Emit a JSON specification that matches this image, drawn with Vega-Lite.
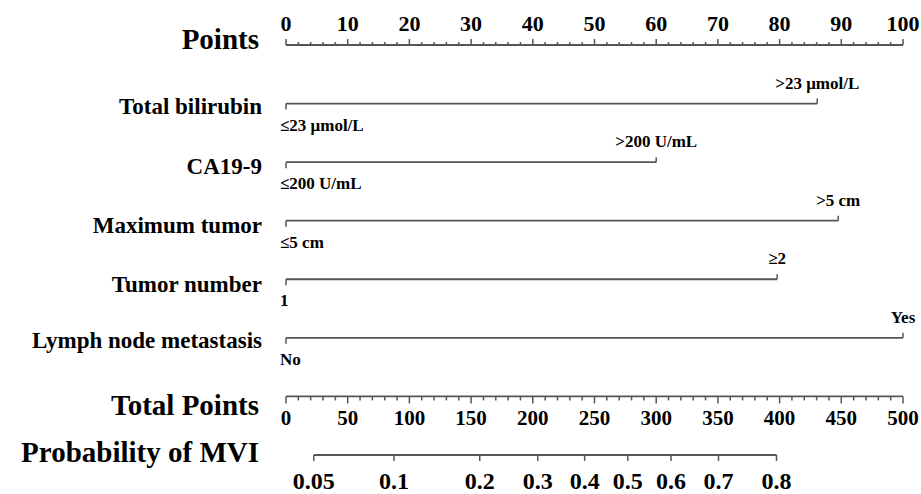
{
  "$schema": "https://vega.github.io/schema/vega-lite/v6.json",
  "width": 617,
  "height": 494,
  "autosize": {"type": "none"},
  "padding": {"left": 286, "right": 18, "top": 0, "bottom": 0},
  "background": "white",
  "config": {"view": {"stroke": null}, "text": {"font": "Liberation Serif", "fontWeight": "bold", "color": "black"}},
  "datasets": {
    "vars": [
      {"row": 1, "start": 0, "end": 86.1, "low": "≤23 μmol/L", "high": ">23 μmol/L"},
      {"row": 2, "start": 0, "end": 60, "low": "≤200 U/mL", "high": ">200 U/mL"},
      {"row": 3, "start": 0, "end": 89.5, "low": "≤5 cm", "high": ">5 cm"},
      {"row": 4, "start": 0, "end": 79.6, "low": "1", "high": "≥2"},
      {"row": 5, "start": 0, "end": 100, "low": "No", "high": "Yes"}
    ],
    "names": [
      {"name": "Points", "row": -0.085, "kind": "title"},
      {"name": "Total bilirubin", "row": 1.06, "kind": "var"},
      {"name": "CA19-9", "row": 2.08, "kind": "var"},
      {"name": "Maximum tumor", "row": 3.09, "kind": "var"},
      {"name": "Tumor number", "row": 4.1, "kind": "var"},
      {"name": "Lymph node metastasis", "row": 5.05, "kind": "var"},
      {"name": "Total Points", "row": 6.16, "kind": "title"},
      {"name": "Probability of MVI", "row": 6.97, "kind": "title"}
    ],
    "pMajor": [{"row": 0, "v": 0}, {"row": 0, "v": 10}, {"row": 0, "v": 20}, {"row": 0, "v": 30}, {"row": 0, "v": 40}, {"row": 0, "v": 50}, {"row": 0, "v": 60}, {"row": 0, "v": 70}, {"row": 0, "v": 80}, {"row": 0, "v": 90}, {"row": 0, "v": 100}],
    "pMinor": [{"row": 0, "v": 2}, {"row": 0, "v": 4}, {"row": 0, "v": 6}, {"row": 0, "v": 8}, {"row": 0, "v": 12}, {"row": 0, "v": 14}, {"row": 0, "v": 16}, {"row": 0, "v": 18}, {"row": 0, "v": 22}, {"row": 0, "v": 24}, {"row": 0, "v": 26}, {"row": 0, "v": 28}, {"row": 0, "v": 32}, {"row": 0, "v": 34}, {"row": 0, "v": 36}, {"row": 0, "v": 38}, {"row": 0, "v": 42}, {"row": 0, "v": 44}, {"row": 0, "v": 46}, {"row": 0, "v": 48}, {"row": 0, "v": 52}, {"row": 0, "v": 54}, {"row": 0, "v": 56}, {"row": 0, "v": 58}, {"row": 0, "v": 62}, {"row": 0, "v": 64}, {"row": 0, "v": 66}, {"row": 0, "v": 68}, {"row": 0, "v": 72}, {"row": 0, "v": 74}, {"row": 0, "v": 76}, {"row": 0, "v": 78}, {"row": 0, "v": 82}, {"row": 0, "v": 84}, {"row": 0, "v": 86}, {"row": 0, "v": 88}, {"row": 0, "v": 92}, {"row": 0, "v": 94}, {"row": 0, "v": 96}, {"row": 0, "v": 98}],
    "tMajor": [{"row": 6, "v": 0}, {"row": 6, "v": 50}, {"row": 6, "v": 100}, {"row": 6, "v": 150}, {"row": 6, "v": 200}, {"row": 6, "v": 250}, {"row": 6, "v": 300}, {"row": 6, "v": 350}, {"row": 6, "v": 400}, {"row": 6, "v": 450}, {"row": 6, "v": 500}],
    "tMinor": [{"row": 6, "v": 10}, {"row": 6, "v": 20}, {"row": 6, "v": 30}, {"row": 6, "v": 40}, {"row": 6, "v": 60}, {"row": 6, "v": 70}, {"row": 6, "v": 80}, {"row": 6, "v": 90}, {"row": 6, "v": 110}, {"row": 6, "v": 120}, {"row": 6, "v": 130}, {"row": 6, "v": 140}, {"row": 6, "v": 160}, {"row": 6, "v": 170}, {"row": 6, "v": 180}, {"row": 6, "v": 190}, {"row": 6, "v": 210}, {"row": 6, "v": 220}, {"row": 6, "v": 230}, {"row": 6, "v": 240}, {"row": 6, "v": 260}, {"row": 6, "v": 270}, {"row": 6, "v": 280}, {"row": 6, "v": 290}, {"row": 6, "v": 310}, {"row": 6, "v": 320}, {"row": 6, "v": 330}, {"row": 6, "v": 340}, {"row": 6, "v": 360}, {"row": 6, "v": 370}, {"row": 6, "v": 380}, {"row": 6, "v": 390}, {"row": 6, "v": 410}, {"row": 6, "v": 420}, {"row": 6, "v": 430}, {"row": 6, "v": 440}, {"row": 6, "v": 460}, {"row": 6, "v": 470}, {"row": 6, "v": 480}, {"row": 6, "v": 490}],
    "prob": [
      {"row": 7, "p": "0.05", "tp": 22.5}, {"row": 7, "p": "0.1", "tp": 87.5}, {"row": 7, "p": "0.2", "tp": 157}, {"row": 7, "p": "0.3", "tp": 204},
      {"row": 7, "p": "0.4", "tp": 242}, {"row": 7, "p": "0.5", "tp": 277}, {"row": 7, "p": "0.6", "tp": 312}, {"row": 7, "p": "0.7", "tp": 350.5}, {"row": 7, "p": "0.8", "tp": 397.5}
    ],
    "pAxis": [{"row": 0, "from": 0, "to": 100}],
    "tAxis": [{"row": 6, "from": 0, "to": 500}, {"row": 7, "from": 22.5, "to": 397.5}]
  },
  "encoding": {
    "y": {"field": "row", "type": "quantitative", "scale": {"domain": [-0.768, 7.666], "reverse": true, "nice": false, "zero": false}, "axis": null}
  },
  "layer": [
    {
      "data": {"name": "pAxis"},
      "mark": {"type": "rule", "color": "#555555", "strokeWidth": 1.8},
      "encoding": {
        "x": {"field": "from", "type": "quantitative", "scale": {"domain": [0, 100], "nice": false, "zero": false}, "axis": null},
        "x2": {"field": "to"}
      }
    },
    {
      "data": {"name": "pMajor"},
      "mark": {"type": "rule", "color": "#555555", "strokeWidth": 1.5, "y2Offset": -6},
      "encoding": {
        "x": {"field": "v", "type": "quantitative", "scale": {"domain": [0, 100], "nice": false, "zero": false}, "axis": null},
        "y2": {"field": "row"}
      }
    },
    {
      "data": {"name": "pMinor"},
      "mark": {"type": "rule", "color": "#555555", "strokeWidth": 1.5, "y2Offset": -3},
      "encoding": {
        "x": {"field": "v", "type": "quantitative", "scale": {"domain": [0, 100], "nice": false, "zero": false}, "axis": null},
        "y2": {"field": "row"}
      }
    },
    {
      "data": {"name": "pMajor"},
      "mark": {"type": "text", "fontSize": 22, "baseline": "middle", "align": "center", "dy": -21},
      "encoding": {
        "x": {"field": "v", "type": "quantitative", "scale": {"domain": [0, 100], "nice": false, "zero": false}, "axis": null},
        "text": {"field": "v", "type": "quantitative", "format": "d"}
      }
    },
    {
      "data": {"name": "vars"},
      "mark": {"type": "rule", "color": "#555555", "strokeWidth": 1.8},
      "encoding": {
        "x": {"field": "start", "type": "quantitative", "scale": {"domain": [0, 100], "nice": false, "zero": false}, "axis": null},
        "x2": {"field": "end"}
      }
    },
    {
      "data": {"name": "vars"},
      "mark": {"type": "rule", "color": "#555555", "strokeWidth": 1.5, "y2Offset": 6},
      "encoding": {
        "x": {"field": "start", "type": "quantitative", "scale": {"domain": [0, 100], "nice": false, "zero": false}, "axis": null},
        "y2": {"field": "row"}
      }
    },
    {
      "data": {"name": "vars"},
      "mark": {"type": "rule", "color": "#555555", "strokeWidth": 1.5, "y2Offset": -5},
      "encoding": {
        "x": {"field": "end", "type": "quantitative", "scale": {"domain": [0, 100], "nice": false, "zero": false}, "axis": null},
        "y2": {"field": "row"}
      }
    },
    {
      "data": {"name": "vars"},
      "mark": {"type": "text", "fontSize": 17, "baseline": "middle", "align": "left", "dx": -6, "dy": 22},
      "encoding": {
        "x": {"field": "start", "type": "quantitative", "scale": {"domain": [0, 100], "nice": false, "zero": false}, "axis": null},
        "text": {"field": "low"}
      }
    },
    {
      "data": {"name": "vars"},
      "mark": {"type": "text", "fontSize": 17, "baseline": "middle", "align": "center", "dy": -20},
      "encoding": {
        "x": {"field": "end", "type": "quantitative", "scale": {"domain": [0, 100], "nice": false, "zero": false}, "axis": null},
        "text": {"field": "high"}
      }
    },
    {
      "data": {"name": "names"},
      "transform": [{"filter": "datum.kind === 'title'"}],
      "mark": {"type": "text", "fontSize": 29, "baseline": "middle", "align": "right", "dx": -27},
      "encoding": {
        "x": {"datum": 0, "type": "quantitative", "scale": {"domain": [0, 100], "nice": false, "zero": false}, "axis": null},
        "text": {"field": "name"}
      }
    },
    {
      "data": {"name": "names"},
      "transform": [{"filter": "datum.kind === 'var'"}],
      "mark": {"type": "text", "fontSize": 23, "baseline": "middle", "align": "right", "dx": -24},
      "encoding": {
        "x": {"datum": 0, "type": "quantitative", "scale": {"domain": [0, 100], "nice": false, "zero": false}, "axis": null},
        "text": {"field": "name"}
      }
    },
    {
      "data": {"name": "tAxis"},
      "mark": {"type": "rule", "color": "#555555", "strokeWidth": 1.8},
      "encoding": {
        "x": {"field": "from", "type": "quantitative", "scale": {"domain": [0, 500], "nice": false, "zero": false}, "axis": null},
        "x2": {"field": "to"}
      }
    },
    {
      "data": {"name": "tMajor"},
      "mark": {"type": "rule", "color": "#555555", "strokeWidth": 1.5, "y2Offset": 7},
      "encoding": {
        "x": {"field": "v", "type": "quantitative", "scale": {"domain": [0, 500], "nice": false, "zero": false}, "axis": null},
        "y2": {"field": "row"}
      }
    },
    {
      "data": {"name": "tMinor"},
      "mark": {"type": "rule", "color": "#555555", "strokeWidth": 1.5, "y2Offset": 4},
      "encoding": {
        "x": {"field": "v", "type": "quantitative", "scale": {"domain": [0, 500], "nice": false, "zero": false}, "axis": null},
        "y2": {"field": "row"}
      }
    },
    {
      "data": {"name": "tMajor"},
      "mark": {"type": "text", "fontSize": 21, "baseline": "middle", "align": "center", "dy": 23},
      "encoding": {
        "x": {"field": "v", "type": "quantitative", "scale": {"domain": [0, 500], "nice": false, "zero": false}, "axis": null},
        "text": {"field": "v", "type": "quantitative", "format": "d"}
      }
    },
    {
      "data": {"name": "prob"},
      "mark": {"type": "rule", "color": "#555555", "strokeWidth": 1.5, "y2Offset": 6},
      "encoding": {
        "x": {"field": "tp", "type": "quantitative", "scale": {"domain": [0, 500], "nice": false, "zero": false}, "axis": null},
        "y2": {"field": "row"}
      }
    },
    {
      "data": {"name": "prob"},
      "mark": {"type": "text", "fontSize": 24, "baseline": "middle", "align": "center", "dy": 27},
      "encoding": {
        "x": {"field": "tp", "type": "quantitative", "scale": {"domain": [0, 500], "nice": false, "zero": false}, "axis": null},
        "text": {"field": "p"}
      }
    }
  ],
  "resolve": {"scale": {"x": "independent"}}
}
